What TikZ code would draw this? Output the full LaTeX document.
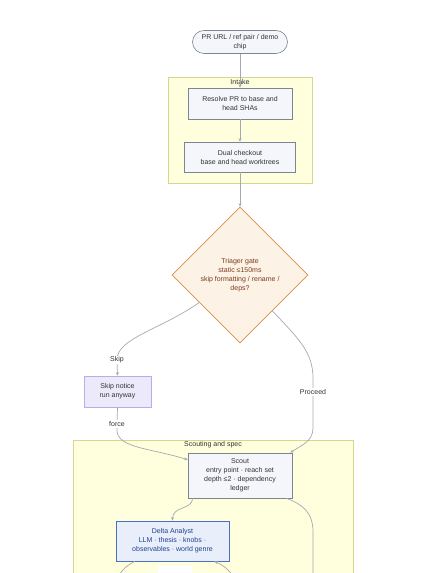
\documentclass[tikz,border=0pt]{standalone}
\usepackage{fontspec}
\setmainfont{Liberation Sans}
\usetikzlibrary{shapes.geometric,arrows.meta}

\definecolor{boxfill}{HTML}{F4F6FB}
\definecolor{boxline}{HTML}{7D8591}
\definecolor{clusterfill}{HTML}{FFFFDE}
\definecolor{clusterline}{HTML}{D6D68F}
\definecolor{gatefill}{HTML}{FDF2E6}
\definecolor{gateline}{HTML}{D98C3F}
\definecolor{gatetext}{HTML}{7A3D1E}
\definecolor{skipfill}{HTML}{ECE9FB}
\definecolor{skipline}{HTML}{B5AEE8}
\definecolor{deltafill}{HTML}{E8EFFB}
\definecolor{deltaline}{HTML}{4572C4}
\definecolor{deltatext}{HTML}{21418C}
\definecolor{edgeline}{HTML}{A3A9B3}
\definecolor{labeltext}{HTML}{333333}

\tikzset{
	box/.style={draw=boxline, fill=boxfill, line width=0.6pt, inner sep=0pt, text=labeltext},
	cluster/.style={draw=clusterline, fill=clusterfill, line width=0.6pt, inner sep=0pt},
	flow/.style={draw=edgeline, line width=0.7pt, -{Stealth[length=3.5pt,width=3pt]}},
	flowlabel/.style={fill=white, inner sep=1pt, text=labeltext}
}

\begin{document}
\begin{tikzpicture}[x=1pt,y=-1pt,
	every node/.style={font=\fontsize{7}{9}\selectfont, align=center}]
	\useasboundingbox (0,0) rectangle (423,573);
	\clip (0,0) rectangle (423,573);

	\node[cluster, minimum width=144, minimum height=106] (intake) at (240,130) {};
	\node[text=labeltext] (intakelbl) at (240,82) {Intake};
	\node[cluster, minimum width=280, minimum height=160] (scouting) at (213,520) {};
	\node[text=labeltext] (scoutinglbl) at (213,445) {Scouting and spec};

	\node[box, rounded corners=11.5pt, minimum width=95, minimum height=23] (src) at (240,42)
		{PR URL / ref pair / demo\\chip};
	\node[box, minimum width=104, minimum height=31] (resolve) at (240,103.5)
		{Resolve PR to base and\\head SHAs};
	\node[box, minimum width=111, minimum height=30] (checkout) at (240,157)
		{Dual checkout\\base and head worktrees};
	\node[diamond, draw=gateline, fill=gatefill, text=gatetext, line width=0.7pt, inner sep=0pt,
		minimum width=136, minimum height=136] (gate) at (240,275)
		{Triager gate\\static ≤150ms\\skip formatting / rename /\\deps?};
	\node[box, draw=skipline, fill=skipfill, minimum width=67, minimum height=31] (skipnote) at (117.5,391.5)
		{Skip notice\\run anyway};
	\node[box, minimum width=104, minimum height=45] (scout) at (240,475.5)
		{Scout\\entry point · reach set\\depth ≤2 · dependency\\ledger};
	\node[box, draw=deltaline, fill=deltafill, text=deltatext, line width=0.8pt,
		minimum width=113, minimum height=40] (delta) at (172.5,541)
		{Delta Analyst\\LLM · thesis · knobs ·\\observables · world genre};

	\coordinate (scoutout) at (313,585);
	\coordinate (deltaout) at (116,585);
	\coordinate (deltain) at (238,585);

	\draw[flow] (src) -- (resolve);
	\draw[flow] (resolve) -- (checkout);
	\draw[flow] (checkout) -- (gate);
	\draw[flow] (gate.214) .. controls (160,330) and (117,338) .. (117,360)
		node[flowlabel] (skiplbl) {Skip} -- (skipnote.north);
	\draw[flow] (gate.312) .. controls (298,338) and (313,352) .. (313,378) -- (313,392)
		node[flowlabel] (proceedlbl) {Proceed} -- (313,428)
		.. controls (313,442) and (300,446) .. ([xshift=-2pt]scout.north east);
	\draw[flow] (skipnote.south) -- (117,424) node[flowlabel] (forcelbl) {force} -- (117,430)
		.. controls (117,448) and (150,448) .. ([yshift=-7pt]scout.north west);
	\draw[flow] ([xshift=5pt]scout.south west) .. controls (192,510) and (172.5,506) .. (delta.north);
	\draw[draw=edgeline, line width=0.7pt] ([xshift=-6pt]scout.south east)
		.. controls (302,504) and (313,512) .. (313,532) -- (scoutout);
	\draw[draw=edgeline, line width=0.7pt] ([xshift=19pt]delta.south west)
		.. controls (126,566) and (118,572) .. (deltaout);
	\draw[flow] (deltain) .. controls (232,572) and (225,566) .. ([xshift=-15pt]delta.south east);
	\node[fill=white, inner sep=0pt, minimum width=34, minimum height=14] (hiddenlbl) at (175,573) {};
\end{tikzpicture}
\end{document}
